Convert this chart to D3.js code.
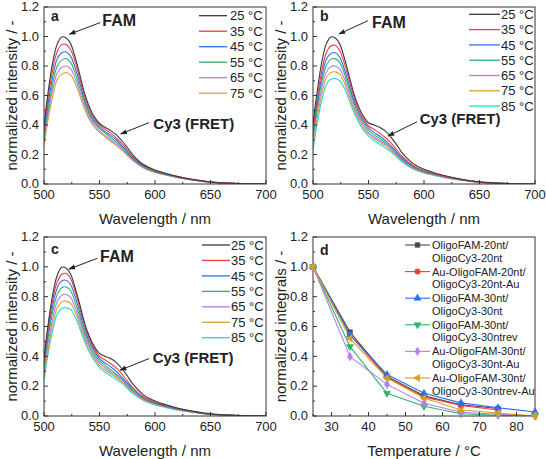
<!DOCTYPE html>
<html><head><meta charset="utf-8">
<script src="https://cdn.jsdelivr.net/npm/d3@7"></script>
<style>
body{margin:0;background:#fff}
svg{display:block}
text{font-family:"Liberation Sans",Arial,sans-serif;fill:#222}
</style>
</head><body>
<svg id="chart" width="546" height="459"></svg>
<script>
// ---------- DATA ----------
const wavelengths = [500,504,508,512,516,520,524,528,532,536,540,545,550,555,560,565,570,575,580,590,600,610,620,635,650,670,700];

const tempsA = ["25 °C","35 °C","45 °C","55 °C","65 °C","75 °C"];
const tempsBC = ["25 °C","35 °C","45 °C","55 °C","65 °C","75 °C","85 °C"];

const specA25 = [.40,.64,.83,.95,.997,.99,.95,.86,.75,.63,.54,.46,.41,.385,.362,.335,.295,.248,.198,.13,.095,.072,.052,.030,.014,.005,.000];
const specA35 = [.37,.60,.78,.90,.945,.945,.91,.83,.72,.61,.52,.445,.40,.37,.345,.315,.275,.23,.185,.125,.09,.069,.05,.029,.013,.005,.000];
const specA45 = [.34,.56,.73,.85,.89,.895,.865,.79,.69,.585,.50,.43,.385,.355,.33,.30,.26,.22,.178,.12,.087,.066,.048,.028,.013,.005,.000];
const specA55 = [.31,.52,.685,.80,.84,.85,.825,.755,.66,.565,.485,.415,.375,.345,.315,.285,.25,.21,.17,.115,.084,.064,.046,.027,.012,.004,.000];
const specA65 = [.29,.49,.645,.755,.79,.80,.78,.72,.63,.54,.465,.40,.36,.33,.30,.27,.24,.20,.163,.11,.081,.062,.045,.026,.012,.004,.000];
const specA75 = [.26,.45,.60,.71,.745,.755,.74,.685,.605,.52,.45,.39,.35,.32,.29,.26,.23,.195,.158,.107,.078,.06,.043,.025,.011,.004,.000];

const specB25 = [.41,.64,.83,.95,.997,.99,.95,.86,.75,.635,.545,.465,.415,.40,.385,.36,.32,.27,.215,.14,.10,.075,.054,.031,.015,.005,.000];
const specB35 = [.37,.59,.77,.89,.935,.94,.905,.825,.72,.61,.525,.445,.395,.37,.345,.315,.28,.235,.19,.126,.09,.069,.05,.029,.013,.005,.000];
const specB45 = [.35,.56,.73,.845,.885,.89,.86,.785,.685,.585,.505,.43,.38,.35,.325,.295,.26,.22,.178,.12,.087,.066,.048,.028,.013,.005,.000];
const specB55 = [.32,.53,.695,.805,.845,.85,.825,.755,.66,.565,.485,.415,.365,.335,.31,.28,.25,.21,.17,.115,.084,.064,.046,.027,.012,.004,.000];
const specB65 = [.30,.50,.655,.76,.795,.80,.78,.72,.63,.54,.465,.40,.35,.32,.295,.27,.24,.20,.163,.11,.081,.062,.045,.026,.012,.004,.000];
const specB75 = [.27,.46,.615,.72,.755,.76,.745,.69,.605,.52,.45,.385,.34,.31,.285,.26,.23,.195,.158,.107,.078,.06,.043,.025,.011,.004,.000];
const specB85 = [.23,.42,.57,.675,.71,.715,.70,.655,.58,.50,.435,.37,.325,.295,.27,.245,.22,.185,.15,.102,.075,.057,.041,.024,.011,.004,.000];

const specC25 = [.39,.63,.82,.945,.997,.99,.95,.86,.755,.64,.55,.47,.42,.40,.385,.36,.32,.27,.215,.14,.10,.075,.054,.031,.015,.005,.000];
const specC35 = [.37,.60,.785,.90,.95,.955,.92,.835,.73,.62,.535,.455,.40,.375,.352,.322,.282,.236,.19,.127,.092,.07,.051,.029,.013,.005,.000];
const specC45 = [.35,.57,.745,.86,.905,.91,.88,.80,.70,.595,.515,.44,.385,.355,.33,.30,.26,.22,.178,.12,.087,.066,.048,.028,.013,.005,.000];
const specC55 = [.32,.54,.705,.815,.86,.865,.84,.765,.67,.57,.495,.42,.37,.34,.31,.28,.25,.21,.17,.115,.084,.064,.046,.027,.012,.004,.000];
const specC65 = [.30,.50,.66,.77,.81,.815,.795,.73,.64,.55,.475,.405,.355,.325,.295,.27,.24,.20,.163,.11,.081,.062,.045,.026,.012,.004,.000];
const specC75 = [.27,.46,.62,.725,.765,.77,.755,.70,.615,.53,.455,.39,.34,.31,.285,.26,.23,.195,.158,.107,.078,.06,.043,.025,.011,.004,.000];
const specC85 = [.24,.43,.58,.685,.72,.725,.715,.665,.59,.51,.44,.375,.325,.295,.27,.245,.22,.185,.15,.102,.075,.057,.041,.024,.011,.004,.000];

const temperaturesD = [25,35,45,55,65,75,85];
const seriesNamesD = [
  ["OligoFAM-20nt/","OligoCy3-20nt"],
  ["Au-OligoFAM-20nt/","OligoCy3-20nt-Au"],
  ["OligoFAM-30nt/","OligoCy3-30nt"],
  ["OligoFAM-30nt/","OligoCy3-30ntrev"],
  ["Au-OligoFAM-30nt/","OligoCy3-30nt-Au"],
  ["Au-OligoFAM-30nt/","OligoCy3-30ntrev-Au"]
];
const integD1 = [1.0,0.563,0.265,0.135,0.075,0.05];
const integD2 = [1.0,0.545,0.26,0.128,0.07,0.04];
const integD3 = [1.0,0.545,0.278,0.152,0.088,0.055,0.027];
const integD4 = [1.0,0.465,0.152,0.065,0.015,0.005,0.0];
const integD5 = [1.0,0.398,0.212,0.085,0.025,0.012,0.0];
const integD6 = [1.0,0.52,0.255,0.12,0.04,0.02,0.0];

const wlTicks = [500,550,600,650,700];
const tempTicks = [30,40,50,60,70,80];
const yTicks = [0,0.2,0.4,0.6,0.8,1.0,1.2];

// ---------- STYLE ----------
const tempColors = ["#3a3a3a","#f03c3c","#2f72ea","#2fb46c","#b27de8","#d9a232","#22d8d0"];
const dColors = ["#4a4a4a","#f03c3c","#2a6ef0","#2db36a","#b580ee","#d4a022"];
const dSymbols = ["square","circle","up","down","diamond","left"];

const svg = d3.select("#chart");
const defs = svg.append("defs");
defs.append("marker").attr("id","arr").attr("viewBox","0 0 10 10")
  .attr("refX",9).attr("refY",5).attr("markerWidth",7).attr("markerHeight",7)
  .attr("markerUnits","userSpaceOnUse").attr("orient","auto")
  .append("path").attr("d","M0,1.5 L10,5 L0,8.5 Z").attr("fill","#222");

function makePanel(box, xDomain, xTicksMaj, xStep, xTitle, yTitle, label, labelPos) {
  const g = svg.append("g").attr("transform",`translate(${box.x},${box.y})`);
  const x = d3.scaleLinear().domain(xDomain).range([0,box.w]);
  const y = d3.scaleLinear().domain([0,1.2]).range([box.h,0]);
  const id = "clip"+label;
  defs.append("clipPath").attr("id",id).append("rect").attr("x",0).attr("y",-1).attr("width",box.w).attr("height",box.h+1);
  const plot = g.append("g").attr("clip-path",`url(#${id})`);
  const xMinor = d3.range(xDomain[0], xDomain[1]+0.001, xStep/2);
  const ax = g.append("g");
  xMinor.forEach(v=>{
    const maj = xTicksMaj.some(t=>Math.abs(t-v)<1e-6);
    ax.append("line").attr("x1",x(v)).attr("x2",x(v)).attr("y1",box.h).attr("y2",box.h-(maj?4:2)).attr("stroke","#333");
  });
  xTicksMaj.forEach(v=>{
    ax.append("text").attr("x",x(v)).attr("y",box.h+15).attr("text-anchor","middle").attr("font-size",13).text(v);
  });
  d3.range(0,1.2001,0.1).forEach((v,i)=>{
    ax.append("line").attr("x1",0).attr("x2",(i%2===0)?4:2).attr("y1",y(v)).attr("y2",y(v)).attr("stroke","#333");
  });
  yTicks.forEach(v=>{
    ax.append("text").attr("x",-5).attr("y",y(v)).attr("dy","0.33em").attr("text-anchor","end").attr("font-size",13).text(d3.format(".1f")(v));
  });
  g.append("rect").attr("x",0).attr("y",0).attr("width",box.w).attr("height",box.h)
    .attr("fill","none").attr("stroke","#333").attr("stroke-width",1);
  g.append("text").attr("x",box.w/2).attr("y",box.h+40).attr("text-anchor","middle").attr("font-size",15).text(xTitle);
  g.append("text").attr("transform",`translate(-27,${box.h/2}) rotate(-90)`).attr("text-anchor","middle").attr("font-size",15).text(yTitle);
  g.append("text").attr("x",labelPos[0]).attr("y",labelPos[1]).attr("font-size",14).attr("font-weight","bold").text(label);
  return {g, plot, x, y};
}

function spectraPanel(box, label, labelPos, names, seriesList, leg, ann) {
  const p = makePanel(box,[500,700],wlTicks,50,"Wavelength / nm","normalized intensity / -",label,labelPos);
  const line = d3.line().x((d,i)=>p.x(wavelengths[i])).y(d=>p.y(d)).curve(d3.curveCatmullRom.alpha(0.5));
  seriesList.slice().reverse().forEach((s,ri)=>{
    const i = seriesList.length-1-ri;
    p.plot.append("path").attr("d",line(s)).attr("fill","none").attr("stroke",tempColors[i]).attr("stroke-width",1.1);
  });
  names.forEach((n,i)=>{
    const yy = leg.y0 + i*leg.dy;
    p.g.append("line").attr("x1",leg.x1).attr("x2",leg.x2).attr("y1",yy).attr("y2",yy).attr("stroke",tempColors[i]).attr("stroke-width",1.3);
    p.g.append("text").attr("x",leg.tx).attr("y",yy).attr("dy","0.36em").attr("font-size",13).text(n);
  });
  ann.forEach(a=>{
    p.g.append("text").attr("x",p.x(a.tx)).attr("y",p.y(a.ty)).attr("font-size",a.fs).attr("font-weight","bold").text(a.text);
    p.g.append("line").attr("x1",p.x(a.ax)).attr("y1",p.y(a.ay)).attr("x2",p.x(a.bx)).attr("y2",p.y(a.by))
      .attr("stroke","#222").attr("stroke-width",1).attr("marker-end","url(#arr)");
  });
}

spectraPanel({x:44,y:7,w:222,h:177},"a",[7,14],tempsA,
  [specA25,specA35,specA45,specA55,specA65,specA75],
  {x1:155,x2:183,tx:186,y0:8.7,dy:15.5},
  [{text:"FAM",fs:16,tx:552.5,ty:1.071,ax:550.5,ay:1.094,bx:522.8,by:1.015},
   {text:"Cy3 (FRET)",fs:15,tx:598.5,ty:0.373,ax:594.6,ay:0.416,bx:569.1,by:0.339}]);

spectraPanel({x:313,y:7,w:222,h:177},"b",[7,14],tempsBC,
  [specB25,specB35,specB45,specB55,specB65,specB75,specB85],
  {x1:156,x2:187,tx:188,y0:7.3,dy:15.3},
  [{text:"FAM",fs:16,tx:553.2,ty:1.058,ax:549.5,ay:1.107,bx:523.4,by:1.017},
   {text:"Cy3 (FRET)",fs:15,tx:596.1,ty:0.407,ax:593.7,ay:0.422,bx:567.6,by:0.325}]);

spectraPanel({x:44,y:237,w:222,h:179},"c",[7,17],tempsBC,
  [specC25,specC35,specC45,specC55,specC65,specC75,specC85],
  {x1:158,x2:186,tx:187,y0:8,dy:15.45},
  [{text:"FAM",fs:16,tx:550.5,ty:1.032,ax:548,ay:1.057,bx:522.5,by:0.985},
   {text:"Cy3 (FRET)",fs:15,tx:597.9,ty:0.354,ax:594.6,ay:0.385,bx:568.5,by:0.307}]);

// ---------- Panel d ----------
(function(){
  const box = {x:313,y:237,w:222,h:179};
  const p = makePanel(box,[25,85],tempTicks,10,"Temperature / °C","normalized integrals / -","d",[7,18]);
  const symType = {square:d3.symbolSquare,circle:d3.symbolCircle,up:d3.symbolTriangle,down:d3.symbolTriangle,diamond:d3.symbolDiamond,left:d3.symbolTriangle};
  const symRot = {square:0,circle:0,up:0,down:180,diamond:0,left:-90};
  const symSize = {square:22,circle:24,up:22,down:22,diamond:22,left:22};
  function sym(gg, t, cx, cy, col){
    gg.append("path").attr("d",d3.symbol().type(symType[t]).size(symSize[t])())
      .attr("transform",`translate(${cx},${cy}) rotate(${symRot[t]})`).attr("fill",col).attr("stroke",col).attr("stroke-width",0.5);
  }
  const all = [integD1,integD2,integD3,integD4,integD5,integD6];
  const line = d3.line().x((d,i)=>p.x(temperaturesD[i])).y(d=>p.y(d));
  all.forEach((s,k)=>{
    p.plot.append("path").attr("d",line(s)).attr("fill","none").attr("stroke",dColors[k]).attr("stroke-width",1.1);
  });
  const mg = p.g.append("g");
  all.forEach((s,k)=>{
    s.forEach((v,i)=>sym(mg,dSymbols[k],p.x(temperaturesD[i]),p.y(v),dColors[k]));
  });
  seriesNamesD.forEach((nm,k)=>{
    const yy = 8 + k*26.6;
    p.g.append("line").attr("x1",92).attr("x2",117).attr("y1",yy).attr("y2",yy).attr("stroke",dColors[k]).attr("stroke-width",1.1);
    sym(p.g,dSymbols[k],104.5,yy,dColors[k]);
    p.g.append("text").attr("x",119).attr("y",yy).attr("dy","0.36em").attr("font-size",11).text(nm[0]);
    p.g.append("text").attr("x",119).attr("y",yy+12.6).attr("dy","0.36em").attr("font-size",11).text(nm[1]);
  });
})();
</script>
</body></html>
